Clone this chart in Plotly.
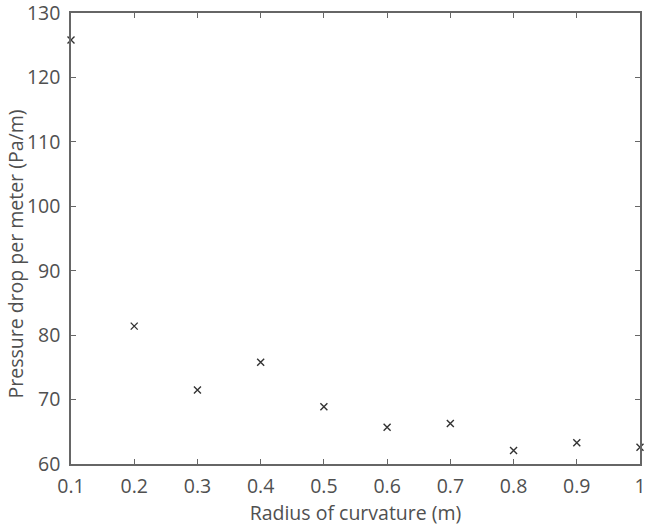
import plotly.graph_objects as go

radius = [0.1, 0.2, 0.3, 0.4, 0.5, 0.6, 0.7, 0.8, 0.9, 1.0]
pressure = [125.8, 81.4, 71.5, 75.8, 68.9, 65.7, 66.3, 62.1, 63.3, 62.6]
x_ticks = [0.1, 0.2, 0.3, 0.4, 0.5, 0.6, 0.7, 0.8, 0.9, 1.0]
x_labels = ["0.1", "0.2", "0.3", "0.4", "0.5", "0.6", "0.7", "0.8", "0.9", "1"]
y_ticks = [60, 70, 80, 90, 100, 110, 120, 130]

FONT = "Open Sans"
TXT = "#505050"

fig = go.Figure()
fig.add_trace(go.Scatter(
    x=radius, y=pressure, mode="markers",
    marker=dict(symbol="x-thin", size=7, line=dict(width=1.4, color="#333333"), color="#333333"),
    cliponaxis=False, showlegend=False,
))

axis_common = dict(
    showline=True, linecolor="#666666", linewidth=1.5, mirror="ticks",
    ticks="inside", ticklen=5, tickcolor="#666666", tickwidth=1.2,
    showgrid=False, zeroline=False, automargin=False,
    ticklabeloverflow="allow",
    tickfont=dict(family=FONT, size=19.5, color=TXT),
)

fig.update_xaxes(range=[0.1, 1.0], tickvals=x_ticks, ticktext=x_labels,
                 ticklabelstandoff=4,
                 title=dict(text="Radius of curvature (m)", font=dict(family=FONT, size=19.5, color=TXT), standoff=2),
                 **axis_common)
fig.update_yaxes(range=[60, 130], tickvals=y_ticks,
                 ticklabelstandoff=5,
                 **axis_common)

fig.add_annotation(
    text="Pressure drop per meter (Pa/m)", textangle=-90,
    xref="paper", yref="paper", x=0, y=0.5, xanchor="center", yanchor="middle",
    xshift=-56, yshift=-16, showarrow=False,
    font=dict(family=FONT, size=19.5, color=TXT),
)

fig.update_layout(
    width=650, height=529,
    margin=dict(l=71, r=10, t=13, b=65),
    plot_bgcolor="white", paper_bgcolor="white",
)

fig.write_html("out.html", config={"displayModeBar": False},
               post_script="document.body.style.margin='0px';")
